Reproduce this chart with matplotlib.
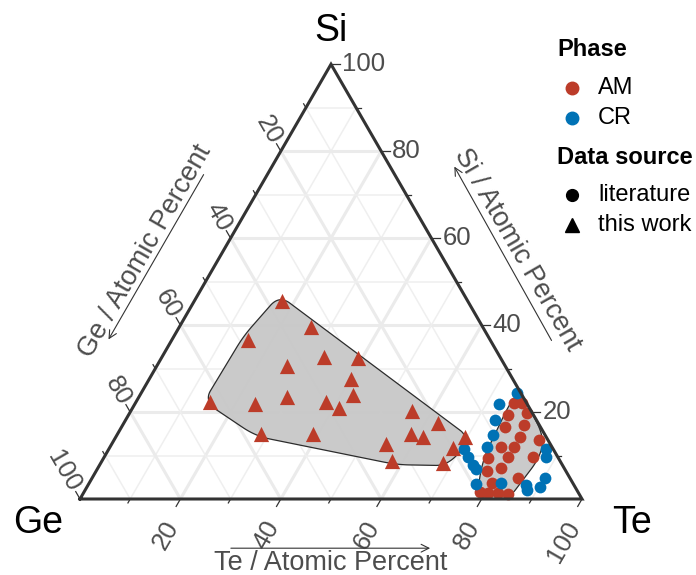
import numpy as np
import matplotlib.pyplot as plt
from matplotlib.lines import Line2D

plt.rcParams['font.family'] = ['Liberation Sans', 'DejaVu Sans']

# compositions in atomic percent
# this work (all amorphous)
tw_ge = [37.0, 34.2, 48.2, 35.1, 43.5, 28.3, 32.2, 33.6, 62.9, 54.2, 47.0, 39.8,
         37.9, 23.7, 19.9, 56.4, 46.1, 26.6, 24.5, 32.7, 19.8, 16.2, 33.4, 23.5]
tw_si = [45.6, 39.6, 36.6, 32.7, 30.6, 32.5, 27.6, 24.0, 22.4, 21.9, 23.5, 22.4,
         21.0, 20.3, 17.5, 15.0, 15.0, 15.0, 14.3, 12.7, 11.8, 14.3, 8.8, 8.3]
tw_te = [17.4, 26.2, 15.2, 32.2, 25.9, 39.2, 40.2, 42.4, 14.7, 23.9, 29.5, 37.8,
         41.1, 56.0, 62.6, 28.6, 38.9, 58.4, 61.2, 54.6, 68.4, 69.5, 57.8, 68.2]

# literature, amorphous
am_ge = [2.5, 0.9, 5.1, 1.1, 3.0, 7.0, 5.2, 1.8, 10.1, 7.5, 14.0, 9.9, 4.9,
         12.6, 15.7, 10.4, 16.1, 19.5, 18.0, 16.0, 14.1]
am_si = [22.1, 22.1, 19.4, 19.8, 17.1, 16.6, 14.3, 13.6, 12.0, 12.0, 9.5, 9.7, 9.7,
         7.1, 6.5, 4.8, 3.7, 1.6, 1.4, 1.4, 1.2]
am_te = [75.4, 77.0, 75.5, 79.1, 79.9, 76.4, 80.5, 84.6, 77.9, 80.5, 76.5, 80.4, 85.4,
         80.3, 77.8, 84.8, 80.2, 78.9, 80.6, 82.6, 84.7]

# literature, crystalline
cr_ge = [0.8, 5.6, 8.2, 10.4, 12.9, 17.8, 17.9, 17.8, 17.7, 19.4, 14.3, 1.4, 2.4,
         5.0, 7.0, 9.6, 10.0]
cr_si = [24.4, 21.9, 18.2, 14.7, 12.0, 11.5, 9.7, 7.8, 6.9, 3.5, 3.7, 11.5, 9.7,
         4.8, 2.8, 3.2, 2.1]
cr_te = [74.8, 72.5, 73.6, 74.9, 75.1, 70.7, 72.4, 74.4, 75.4, 77.1, 82.0, 87.1, 87.9,
         90.2, 90.2, 87.2, 87.9]

RED = '#BC3C29'
BLUE = '#0072B5'
TXT = '#4D4D4D'
R3 = np.sqrt(3) / 2


def tern(ge, si, te):
    ge, si, te = (np.asarray(a, float) for a in (ge, si, te))
    tot = ge + si + te
    si, te = si / tot, te / tot
    return te + si / 2, si * R3


def convex_hull(x, y):
    pts = sorted(set(zip(x, y)))

    def cross(o, a, b):
        return (a[0] - o[0]) * (b[1] - o[1]) - (a[1] - o[1]) * (b[0] - o[0])
    lower, upper = [], []
    for p in pts:
        while len(lower) >= 2 and cross(lower[-2], lower[-1], p) <= 0:
            lower.pop()
        lower.append(p)
    for p in reversed(pts):
        while len(upper) >= 2 and cross(upper[-2], upper[-1], p) <= 0:
            upper.pop()
        upper.append(p)
    return np.array(lower[:-1] + upper[:-1])


def encircle(x, y, pad=0.012, step=0.05, n=5):
    h = convex_hull(x, y)
    c = h.mean(axis=0)
    d = h - c
    r = np.hypot(d[:, 0], d[:, 1])[:, None]
    h = c + d * (1 + pad / r)
    # densify the edges so the rounding stays near the corners
    p = []
    for a, b in zip(h, np.roll(h, -1, axis=0)):
        m = max(int(np.hypot(*(b - a)) / step), 1)
        for f in np.arange(m) / m:
            p.append(a + (b - a) * f)
    p = np.array(p)
    for _ in range(n):
        q = np.roll(p, -1, axis=0)
        a = 0.75 * p + 0.25 * q
        b = 0.25 * p + 0.75 * q
        p = np.empty((2 * len(a), 2))
        p[0::2] = a
        p[1::2] = b
    return p


fig = plt.figure(figsize=(6.96, 5.75), dpi=100)
ax = fig.add_axes([0, 0, 1, 1])
ax.set_xlim(-80 / 502, 616 / 502)
ax.set_ylim(-76 / 502, 499 / 502)
ax.axis('off')

# grid
for k in range(1, 10):
    v = k / 10
    major = k % 2 == 0
    lw = 2.2 if major else 1.1
    col = '#EBEBEB' if major else '#EFEFEF'
    for a, b in [((1 - v, v, 0), (0, v, 1 - v)),
                 ((1 - v, 0, v), (0, 1 - v, v)),
                 ((v, 0, 1 - v), (v, 1 - v, 0))]:
        xs, ys = tern([a[0], b[0]], [a[1], b[1]], [a[2], b[2]])
        ax.plot(xs, ys, color=col, lw=lw, zorder=1, solid_capstyle='butt')

# border
bx, by = tern([1, 0, 0, 1], [0, 0, 1, 0], [0, 1, 0, 0])
ax.plot(bx, by, color='#333333', lw=2.2, zorder=6, solid_joinstyle='miter')

# ticks and tick labels
for k in range(1, 11):
    v = k / 10
    major = k % 2 == 0
    ln = 0.017 if major else 0.009
    # Si (right edge)
    x0, y0 = tern(0, v, 1 - v)
    ax.plot([x0, x0 + ln], [y0, y0], color='#333333', lw=0.9, zorder=6)
    # Te (bottom edge)
    x1, y1 = tern(1 - v, 0, v)
    ax.plot([x1, x1 - 0.5 * ln], [y1, y1 - R3 * ln], color='#333333', lw=0.9, zorder=6)
    # Ge (left edge)
    x2, y2 = tern(v, 1 - v, 0)
    ax.plot([x2, x2 - 0.5 * ln], [y2, y2 + R3 * ln], color='#333333', lw=0.9, zorder=6)
    if major:
        lab = '%d' % (k * 10)
        ax.text(x0 + 0.022, y0, lab, ha='left', va='center', fontsize=18.5, color=TXT)
        d = 0.048
        ax.text(x1 - 0.5 * d + 0.010, y1 - R3 * d - 0.006, lab, rotation=60,
                rotation_mode='anchor', ha='right', va='center', fontsize=18.5, color=TXT)
        d = 0.02
        ax.text(x2 - 0.5 * d, y2 + R3 * d, lab, rotation=-60,
                rotation_mode='anchor', ha='right', va='center', fontsize=18.5, color=TXT)

# vertex labels
ax.text(0.5, 0.932, 'Si', ha='center', va='center', fontsize=27)
ax.text(-0.084, -0.047, 'Ge', ha='center', va='center', fontsize=27)
ax.text(1.10, -0.047, 'Te', ha='center', va='center', fontsize=27)

# axis titles with arrows
arr = dict(arrowstyle='->', color='#333333', lw=0.8, mutation_scale=14)
ax.text(0.5, -0.128, 'Te / Atomic Percent', ha='center', va='center', fontsize=19.5, color=TXT)
ax.annotate('', xy=(0.703, -0.098), xytext=(0.295, -0.098), arrowprops=arr)
ax.text(0.872, 0.497, 'Si / Atomic Percent', rotation=-60, ha='center', va='center',
        fontsize=19.5, color=TXT)
ax.annotate('', xy=(0.743, 0.667), xytext=(0.942, 0.311), arrowprops=arr)
ax.text(0.13, 0.494, 'Ge / Atomic Percent', rotation=60, ha='center', va='center',
        fontsize=19.5, color=TXT)
ax.annotate('', xy=(0.054, 0.313), xytext=(0.249, 0.651), arrowprops=arr)

# shaded regions
tx, ty = tern(tw_ge, tw_si, tw_te)
ax_, ay_ = tern(am_ge, am_si, am_te)
cx, cy = tern(cr_ge, cr_si, cr_te)
for hx, hy in [(tx, ty), (ax_, ay_)]:
    poly = encircle(hx, hy)
    ax.fill(poly[:, 0], poly[:, 1], facecolor='#C8C8C8', edgecolor='#222222',
            lw=0.9, alpha=0.95, zorder=2)

ax.scatter(ax_, ay_, s=72, color=RED, marker='o', lw=0, zorder=3)
ax.scatter(cx, cy, s=72, color=BLUE, marker='o', lw=0, zorder=4)
ax.scatter(tx, ty, s=120, color=RED, marker='^', lw=0, zorder=5)

# legend
W, H = 696, 575


def ft(px, py):
    return px / W, 1 - py / H


fig.text(*ft(557, 50), 'Phase', fontsize=17, fontweight='bold', va='center')
fig.text(*ft(557, 158), 'Data source', fontsize=17, fontweight='bold', va='center')
entries = [(88, 'o', RED, 'AM', 9), (118, 'o', BLUE, 'CR', 9),
           (195, 'o', 'black', 'literature', 8.5), (225, '^', 'black', 'this work', 10)]
for py, mk, c, lab, ms in entries:
    fx, fy = ft(572, py)
    fig.add_artist(Line2D([fx], [fy], marker=mk, color=c, ms=ms, lw=0,
                          transform=fig.transFigure))
    fig.text(*ft(598, py), lab, fontsize=17, va='center')

fig.savefig('out.png', dpi=100)
